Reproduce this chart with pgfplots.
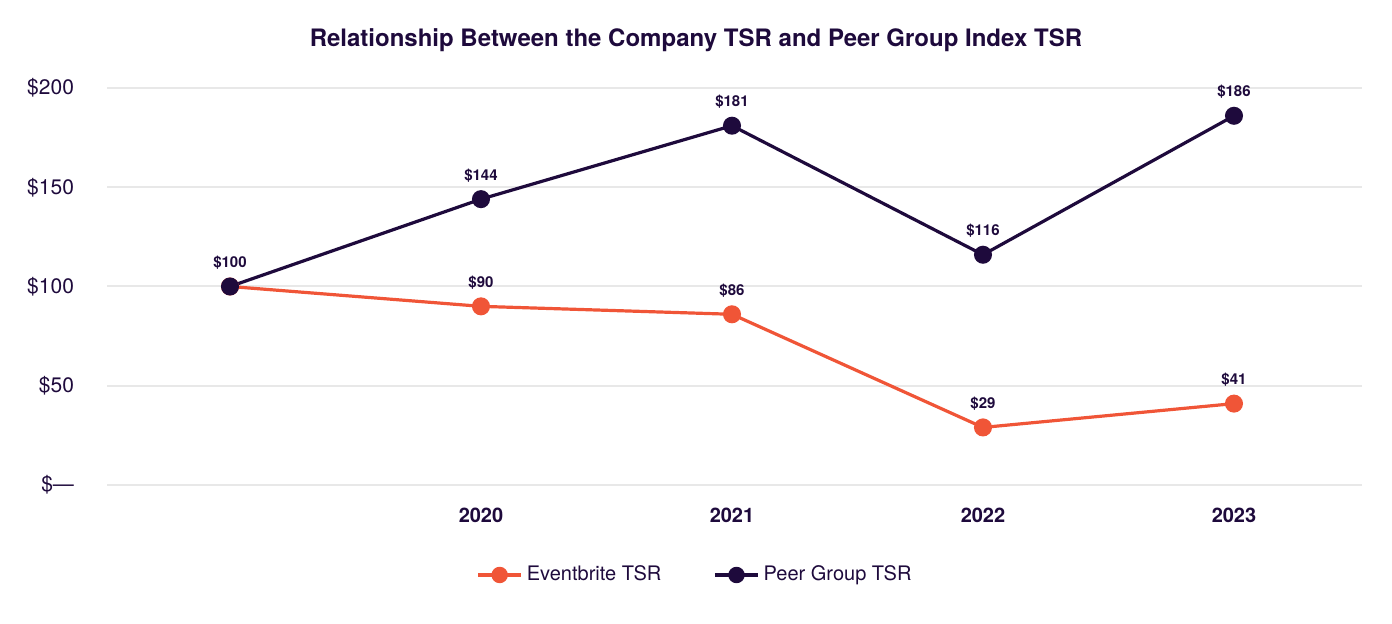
\documentclass[border=0pt]{standalone}
\usepackage{pgfplots}
\pgfplotsset{compat=1.18}
\usepackage{fontspec}
\setmainfont{TeX Gyre Heros}
\definecolor{ebo}{HTML}{F05537}
\definecolor{navy}{HTML}{1E0A3C}
\definecolor{gridc}{HTML}{E8E8E8}
\begin{document}
\begin{tikzpicture}
\begin{axis}[
  scale only axis, width=627.5pt, height=198.5pt,
  xmin=-0.49, xmax=4.51, ymin=0, ymax=200,
  axis x line*=bottom, axis y line*=left,
  axis line style={draw=none},
  major tick length=0pt,
  ymajorgrids, grid style={gridc, line width=1pt},
  ytick={0,50,100,150,200}, yticklabels={\$—,\$50,\$100,\$150,\$200},
  xtick={1,2,3,4}, xticklabels={2020,2021,2022,2023},
  tick label style={text=navy},
  xticklabel style={font=\bfseries\fontsize{10}{12}\selectfont, yshift=-8pt},
  yticklabel style={font=\fontsize{10.5}{12}\selectfont, xshift=-13pt},
  clip=false,
  legend columns=2,
  legend style={at={(rel axis cs:0.4693,-0.2267)}, anchor=center, draw=none, fill=none,
    font=\fontsize{10}{12}\selectfont, text=navy,
    /tikz/every even column/.append style={column sep=24pt}},
  legend image code/.code={
    \draw[mark repeat=2, mark phase=2, mark size=3.3pt] plot coordinates {(0cm,0cm) (0.38cm,0cm) (0.76cm,0cm)};
  },
  every axis plot/.append style={line width=1.6pt, mark=*, mark size=3.7pt},
  nodes near coords, point meta=explicit symbolic,
  nodes near coords style={font=\bfseries\fontsize{7.5}{9}\selectfont, text=navy, anchor=base, yshift=9.5pt},
]
\addplot[color=ebo, mark options={fill=ebo, draw=ebo}] coordinates {
  (0,100) [{}] (1,90) [\$90] (2,86) [\$86] (3,29) [\$29] (4,41) [\$41]
};
\addlegendentry{Eventbrite TSR}
\addplot[color=navy, mark options={fill=navy, draw=navy}] coordinates {
  (0,100) [\$100] (1,144) [\$144] (2,181) [\$181] (3,116) [\$116] (4,186) [\$186]
};
\addlegendentry{Peer Group TSR}
\node[font=\bfseries\fontsize{12}{14}\selectfont, text=navy] at (rel axis cs:0.4693,1.1209) {Relationship Between the Company TSR and Peer Group Index TSR};
\end{axis}
\pgfresetboundingbox
\path[use as bounding box] (current axis.south west) ++(-53.5pt,-69.5pt) rectangle ++(696pt,312pt);
\end{tikzpicture}
\end{document}
